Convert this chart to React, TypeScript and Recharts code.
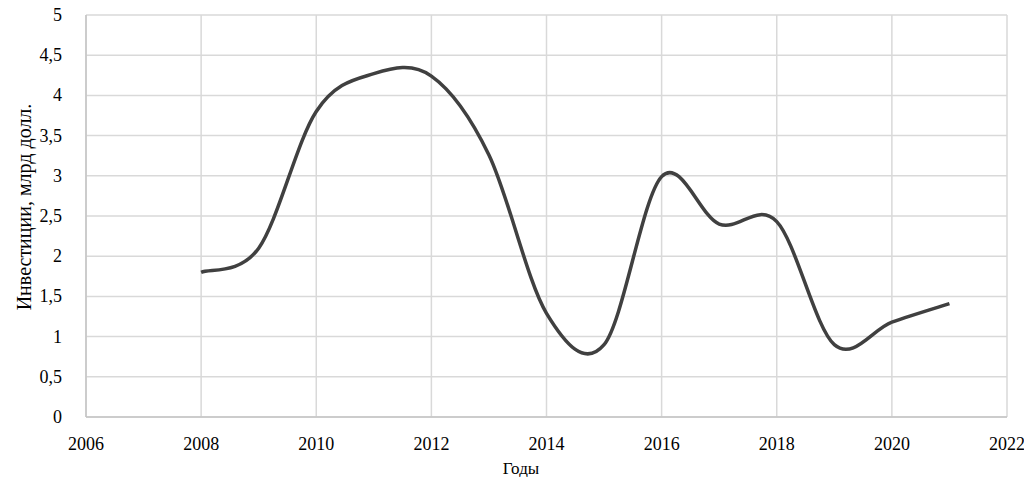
import { LineChart, Line, XAxis, YAxis, CartesianGrid } from 'recharts';

const years = [2008, 2009, 2010, 2011, 2012, 2013, 2014, 2015, 2016, 2017, 2018, 2019, 2020, 2021];
const investments = [1.8, 2.1, 3.8, 4.27, 4.24, 3.26, 1.29, 0.9, 2.99, 2.4, 2.43, 0.9, 1.18, 1.41];
const xTicks = [2006, 2008, 2010, 2012, 2014, 2016, 2018, 2020, 2022];
const yTicks = [0, 0.5, 1, 1.5, 2, 2.5, 3, 3.5, 4, 4.5, 5];

const data = years.map((year, i) => ({ year, value: investments[i] }));

// Excel-like smoothed line (Catmull-Rom through the points)
const smoothCurve = (context: any) => {
  let pts: [number, number][] = [];
  return {
    areaStart() {},
    areaEnd() {},
    lineStart() {
      pts = [];
    },
    point(x: number, y: number) {
      pts.push([+x, +y]);
    },
    lineEnd() {
      if (!pts.length) return;
      context.moveTo(pts[0][0], pts[0][1]);
      for (let i = 0; i < pts.length - 1; i++) {
        const p0 = pts[i - 1] || pts[i];
        const p1 = pts[i];
        const p2 = pts[i + 1];
        const p3 = pts[i + 2] || pts[i + 1];
        context.bezierCurveTo(
          p1[0] + (p2[0] - p0[0]) / 6,
          p1[1] + (p2[1] - p0[1]) / 6,
          p2[0] - (p3[0] - p1[0]) / 6,
          p2[1] - (p3[1] - p1[1]) / 6,
          p2[0],
          p2[1],
        );
      }
    },
  };
};

const textStyle = { fontFamily: "'Liberation Serif', 'DejaVu Serif', serif", fontSize: 18, fill: '#000' };

const XTick = ({ x, y, payload }: any) => (
  <text x={x} y={y + 25} textAnchor="middle" style={textStyle}>
    {payload.value}
  </text>
);

const YTick = ({ x, y, payload }: any) => (
  <text x={x - 16} y={y + 6} textAnchor="end" style={textStyle}>
    {String(payload.value).replace('.', ',')}
  </text>
);

const XTitle = () => (
  <text x={521} y={474} textAnchor="middle" style={{ ...textStyle, fontSize: 17 }}>
    Годы
  </text>
);

const YTitle = () => {
  const cx = 31;
  const cy = 207;
  return (
    <text
      x={cx}
      y={cy}
      textAnchor="middle"
      transform={`rotate(-90 ${cx} ${cy})`}
      style={{ ...textStyle, fontSize: 20 }}
    >
      Инвестиции, млрд долл.
    </text>
  );
};

export default function App() {
  return (
    <div style={{ position: 'absolute', left: 0, top: 0, background: '#fff' }}>
      <LineChart width={1024} height={477} data={data} margin={{ top: 15, right: 17, bottom: 0, left: 0 }}>
        <CartesianGrid stroke="#d9d9d9" strokeWidth={1.5} />
        <XAxis
          dataKey="year"
          type="number"
          domain={[2006, 2022]}
          ticks={xTicks}
          tickLine={false}
          height={60}
          stroke="#c4c4c4"
          strokeWidth={1.5}
          tick={<XTick />}
          label={<XTitle />}
        />
        <YAxis
          domain={[0, 5]}
          ticks={yTicks}
          tickLine={false}
          width={86}
          stroke="#c4c4c4"
          strokeWidth={1.5}
          tick={<YTick />}
          label={<YTitle />}
        />
        <Line
          dataKey="value"
          type={smoothCurve as any}
          stroke="#404040"
          strokeWidth={3.5}
          dot={false}
          isAnimationActive={false}
        />
      </LineChart>
    </div>
  );
}
